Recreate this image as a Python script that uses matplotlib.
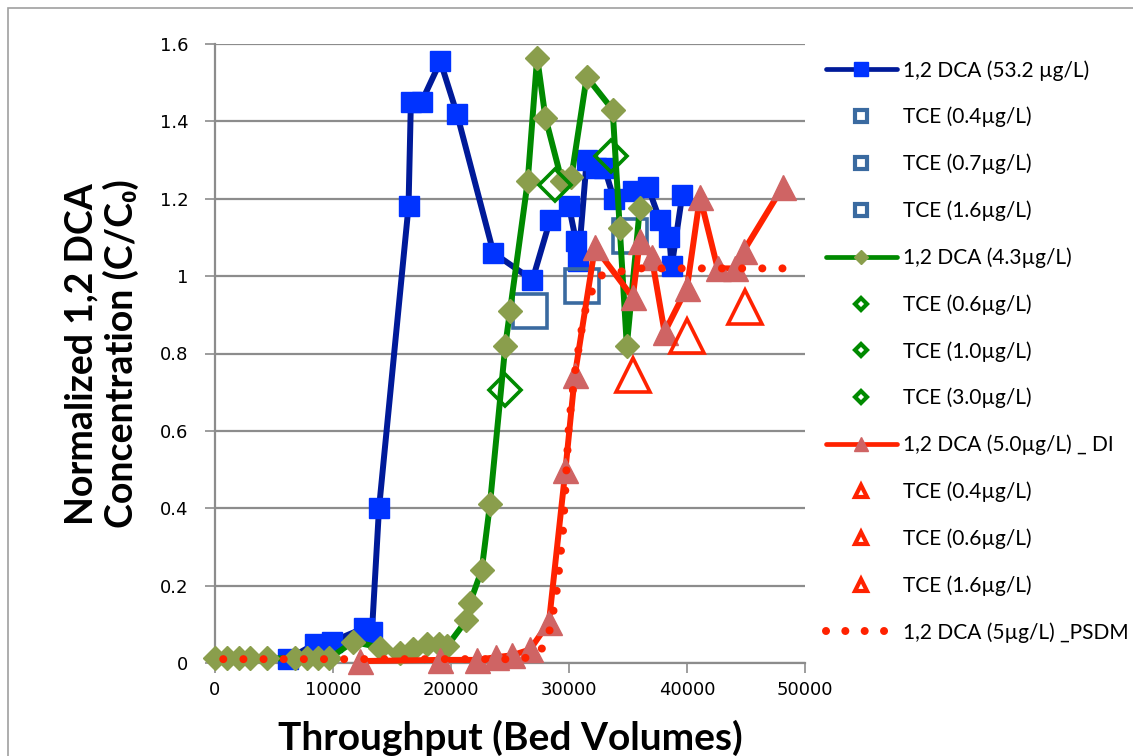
import matplotlib
matplotlib.use("Agg")
import matplotlib.pyplot as plt
from matplotlib.lines import Line2D
from matplotlib.patches import Rectangle

# 1,2 DCA (53.2 ug/L)
dca53_x = [6200, 8500, 9900, 12600, 13300, 13900, 16400, 16600, 17500, 19100, 20500, 23600,
           26900, 28400, 30000, 30600, 30800, 31500, 32300, 33000, 33800, 35400, 36700,
           37700, 38500, 38700, 39600]
dca53_y = [0.01, 0.05, 0.055, 0.09, 0.08, 0.40, 1.18, 1.45, 1.45, 1.555, 1.42, 1.06,
           0.99, 1.145, 1.18, 1.09, 1.04, 1.30, 1.28, 1.28, 1.20, 1.22, 1.23,
           1.145, 1.10, 1.025, 1.21]

# TCE with the 53.2 run
tce_b_x = [[26700], [31100], [35200]]
tce_b_y = [[0.91], [0.975], [1.105]]
tce_b_labels = ["TCE (0.4µg/L)", "TCE (0.7µg/L)", "TCE (1.6µg/L)"]

# 1,2 DCA (4.3 ug/L)
dca43_x = [0, 1000, 2000, 3000, 4400, 6800, 7800, 8700, 9700, 11700, 14000, 15700, 16800,
           18000, 19000, 19700, 21300, 21600, 22600, 23300, 24600, 25000, 26500, 27300,
           28000, 29400, 30200, 31500, 33700, 34300, 34900, 36000]
dca43_y = [0.012, 0.012, 0.012, 0.012, 0.012, 0.012, 0.012, 0.012, 0.012, 0.055, 0.04,
           0.025, 0.035, 0.05, 0.05, 0.045, 0.11, 0.155, 0.24, 0.41, 0.82, 0.91, 1.245,
           1.565, 1.41, 1.245, 1.255, 1.515, 1.43, 1.125, 0.82, 1.175]

tce_g_x = [[24600], [28800], [33600]]
tce_g_y = [[0.705], [1.235], [1.31]]
tce_g_labels = ["TCE (0.6µg/L)", "TCE (1.0µg/L)", "TCE (3.0µg/L)"]

# 1,2 DCA (5.0 ug/L) DI
dcadi_x = [12300, 19100, 22200, 23800, 25200, 26700, 28300, 29700, 30500, 32200, 35400,
           36000, 37000, 38100, 40000, 41100, 42600, 44100, 44800, 48100]
dcadi_y = [0.005, 0.008, 0.008, 0.015, 0.02, 0.035, 0.105, 0.50, 0.745, 1.075, 0.945,
           1.09, 1.05, 0.855, 0.97, 1.205, 1.02, 1.02, 1.065, 1.23]

tce_r_x = [[35400], [40000], [44900]]
tce_r_y = [[0.745], [0.845], [0.92]]
tce_r_labels = ["TCE (0.4µg/L)", "TCE (0.6µg/L)", "TCE (1.6µg/L)"]

# PSDM model
psdm_x = [700, 5000, 10000, 15000, 20000, 25000, 27000, 28000, 28500, 29000, 29500,
          30000, 30500, 31000, 31500, 32500, 34000, 36000, 40000, 45000, 49000]
psdm_y = [0.01, 0.01, 0.01, 0.01, 0.01, 0.01, 0.015, 0.047, 0.10, 0.195, 0.345,
          0.62, 0.75, 0.85, 0.93, 1.0, 1.01, 1.02, 1.02, 1.02, 1.02]

navy, blue = "#001a99", "#0033ff"
green, olive = "#008a00", "#8a9e4c"
red, salmon = "#ff2200", "#cf6464"
steel = "#3a6aa0"
grey = "#8c8c8c"

plt.rcParams["font.family"] = ["DejaVu Sans"]
lab_font = ["Lato", "DejaVu Sans"]

fig = plt.figure(figsize=(11.33, 7.56), dpi=100)
fig.patches.append(Rectangle((8 / 1133, -0.1), 1.2, (756 - 8) / 756 + 0.1,
                             transform=fig.transFigure, fill=False,
                             edgecolor="#a0a0a0", lw=1.2))
ax = fig.add_axes([215 / 1133, 1 - 663 / 756, 590 / 1133, 619 / 756])

ax.plot(dca53_x, dca53_y, color=navy, lw=4.3, marker="s", ms=15,
        mfc=blue, mec=blue, clip_on=False, zorder=3)
for xs, ys in zip(tce_b_x, tce_b_y):
    ax.plot(xs, ys, ls="none", marker="s", ms=24, mfc="none", mec=steel,
            mew=2.6, clip_on=False, zorder=4)
ax.plot(dca43_x, dca43_y, color=green, lw=4.3, marker="D", ms=12,
        mfc=olive, mec=olive, clip_on=False, zorder=5)
for xs, ys in zip(tce_g_x, tce_g_y):
    ax.plot(xs, ys, ls="none", marker="D", ms=16, mfc="none", mec=green,
            mew=2.6, clip_on=False, zorder=6)
ax.plot(dcadi_x, dcadi_y, color=red, lw=4.3, marker="^", ms=18,
        mfc=salmon, mec=salmon, clip_on=False, zorder=7)
for xs, ys in zip(tce_r_x, tce_r_y):
    ax.plot(xs, ys, ls="none", marker="^", ms=24, mfc="none", mec=red,
            mew=2.6, clip_on=False, zorder=8)
ax.plot(psdm_x, psdm_y, color=red, lw=5.8, ls=(0, (0.001, 2.5)),
        dash_capstyle="round", clip_on=False, zorder=9)

ax.set_xlim(0, 50000)
ax.set_ylim(0, 1.6)
ax.set_xticks(range(0, 50001, 10000))
ax.set_yticks([i * 0.2 for i in range(9)])
ax.set_yticklabels(["0", "0.2", "0.4", "0.6", "0.8", "1", "1.2", "1.4", "1.6"])
ax.yaxis.grid(True, color=grey, lw=1.6)
ax.set_axisbelow(True)
for s in ("top", "right"):
    ax.spines[s].set_visible(False)
for s in ("left", "bottom"):
    ax.spines[s].set_color(grey)
    ax.spines[s].set_linewidth(1.6)
ax.tick_params(axis="both", colors=grey, labelcolor="black", labelsize=13,
               width=1.2, length=7)
ax.tick_params(axis="y", pad=12)
ax.tick_params(axis="x", pad=6)

fig.text(510 / 1133, 1 - 738 / 756, "Throughput (Bed Volumes)", family=lab_font,
         weight="bold", size=28, ha="center", va="center")
fig.text(102 / 1133, 1 - 354 / 756, "Normalized 1,2 DCA\nConcentration (C/C₀)",
         family=lab_font, weight="bold", size=27, ha="center", va="center",
         rotation=90, linespacing=1.15)

# legend proxies (smaller markers as in the original legend)
handles = [Line2D([], [], color=navy, lw=3.4, solid_capstyle="round", marker="s",
                  ms=9.5, mfc=blue, mec=blue)]
labels = ["1,2 DCA (53.2 µg/L)"]
for lb in tce_b_labels:
    handles.append(Line2D([], [], ls="none", marker="s", ms=9, mfc="none", mec=steel, mew=3))
    labels.append(lb)
handles.append(Line2D([], [], color=green, lw=3.4, solid_capstyle="round", marker="D",
                      ms=7, mfc=olive, mec=olive))
labels.append("1,2 DCA (4.3µg/L)")
for lb in tce_g_labels:
    handles.append(Line2D([], [], ls="none", marker="D", ms=6.5, mfc="none", mec=green, mew=3))
    labels.append(lb)
handles.append(Line2D([], [], color=red, lw=3.4, solid_capstyle="round", marker="^",
                      ms=10, mfc=salmon, mec=salmon))
labels.append("1,2 DCA (5.0µg/L) _ DI")
for lb in tce_r_labels:
    handles.append(Line2D([], [], ls="none", marker="^", ms=9, mfc="none", mec=red, mew=3))
    labels.append(lb)
handles.append(Line2D([], [], color=red, lw=5.8, ls=(0, (0.001, 2.4)),
                      dash_capstyle="round"))
labels.append("1,2 DCA (5µg/L) _PSDM")

fig.legend(handles, labels, loc="upper left", bbox_to_anchor=(826 / 1133, 1 - 60 / 756),
           frameon=False, prop={"family": lab_font, "size": 15},
           handlelength=3.4, handletextpad=0.3, labelspacing=1.26,
           borderpad=0, borderaxespad=0)

fig.savefig("out.png", dpi=100)
